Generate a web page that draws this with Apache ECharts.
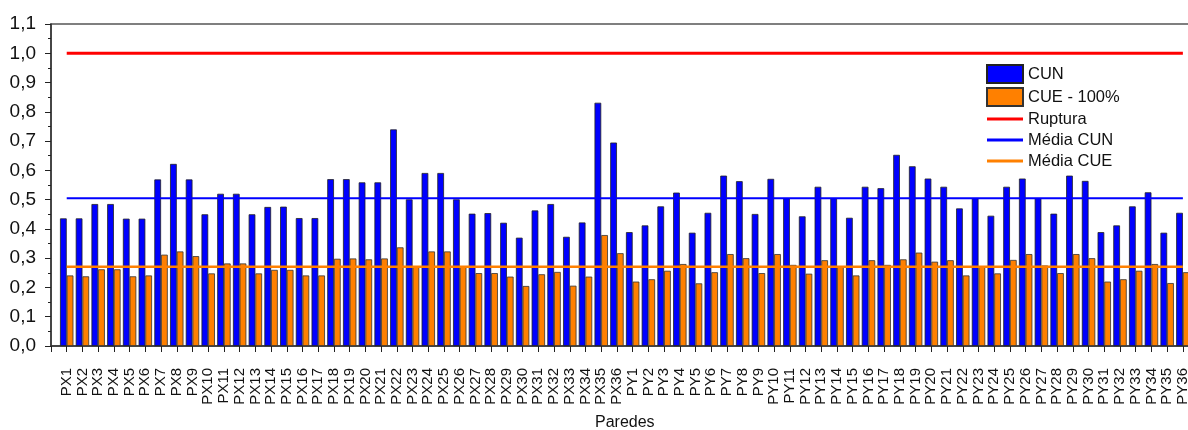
<!DOCTYPE html>
<html>
<head>
<meta charset="utf-8">
<script src="https://cdn.jsdelivr.net/npm/echarts@6/dist/echarts.min.js"></script>
<style>html,body{margin:0;padding:0;background:#fff}#c{width:1188px;height:430px}</style>
</head>
<body>
<div id="c"></div>
<script>
const categories = [
  'PX1','PX2','PX3','PX4','PX5','PX6','PX7','PX8','PX9','PX10','PX11','PX12','PX13','PX14','PX15','PX16','PX17','PX18',
  'PX19','PX20','PX21','PX22','PX23','PX24','PX25','PX26','PX27','PX28','PX29','PX30','PX31','PX32','PX33','PX34','PX35','PX36',
  'PY1','PY2','PY3','PY4','PY5','PY6','PY7','PY8','PY9','PY10','PY11','PY12','PY13','PY14','PY15','PY16','PY17','PY18',
  'PY19','PY20','PY21','PY22','PY23','PY24','PY25','PY26','PY27','PY28','PY29','PY30','PY31','PY32','PY33','PY34','PY35','PY36'
];
const cun = [
  0.436,0.436,0.485,0.485,0.435,0.435,0.569,0.622,0.569,0.450,0.520,0.520,0.450,0.475,0.476,0.437,0.437,0.570,
  0.570,0.559,0.559,0.740,0.501,0.591,0.591,0.501,0.452,0.454,0.421,0.370,0.463,0.485,0.373,0.422,0.831,0.695,
  0.389,0.412,0.477,0.524,0.387,0.455,0.582,0.563,0.451,0.571,0.505,0.443,0.544,0.505,0.438,0.544,0.539,0.653,
  0.614,0.572,0.544,0.470,0.505,0.445,0.544,0.572,0.505,0.452,0.582,0.564,0.389,0.412,0.477,0.525,0.387,0.455
];
const cue = [
  0.241,0.238,0.262,0.262,0.238,0.241,0.312,0.323,0.307,0.248,0.282,0.282,0.248,0.260,0.260,0.241,0.241,0.298,
  0.299,0.296,0.299,0.337,0.270,0.323,0.323,0.270,0.249,0.249,0.237,0.205,0.245,0.253,0.206,0.237,0.379,0.317,
  0.220,0.228,0.257,0.280,0.214,0.252,0.314,0.300,0.249,0.314,0.277,0.247,0.293,0.270,0.241,0.293,0.277,0.296,
  0.319,0.288,0.293,0.241,0.270,0.248,0.294,0.314,0.275,0.249,0.314,0.300,0.220,0.228,0.257,0.280,0.215,0.252
];
const ruptura = 1.0;
const mediaCUN = 0.505;
const mediaCUE = 0.271;
const yTicks = { min: 0, max: 1.1, interval: 0.1 };

// pad with a blank category on each side (axis frame extends one band beyond the data)
const xCats = [''].concat(categories, ['']);
const pad = arr => [null].concat(arr, [null]);
const flat = v => pad(categories.map(() => v));

const font = 'Liberation Sans, Arial, sans-serif';
const lineIcon = 'path://M0,0L0,0M36,18L36,18M0,7.5L36,7.5L36,10.5L0,10.5Z';
const chart = echarts.init(document.getElementById('c'), null, { renderer: 'canvas' });
chart.setOption({
  animation: false,
  backgroundColor: '#fff',
  grid: {
    left: 51, top: 24, bottom: 430 - 346, right: -10.6,
    show: true, borderColor: '#555', borderWidth: 1.5, backgroundColor: 'transparent',
    containLabel: false, outerBoundsMode: 'none'
  },
  legend: {
    orient: 'vertical', left: 986, top: 64, padding: 0,
    itemWidth: 36, itemHeight: 18, itemGap: 3,
    textStyle: { fontFamily: font, fontSize: 16.5, color: '#111' },
    data: [
      { name: 'CUN', icon: 'rect' },
      { name: 'CUE - 100%', icon: 'rect' },
      { name: 'Ruptura', icon: lineIcon, itemStyle: { borderWidth: 0 } },
      { name: 'Média CUN', icon: lineIcon, itemStyle: { borderWidth: 0 } },
      { name: 'Média CUE', icon: lineIcon, itemStyle: { borderWidth: 0 } }
    ]
  },
  xAxis: {
    type: 'category', data: xCats, boundaryGap: false,
    name: 'Paredes', nameLocation: 'middle', nameGap: 69,
    nameTextStyle: { fontFamily: font, fontSize: 16, color: '#111' },
    axisLine: { lineStyle: { color: '#333', width: 1.5 } },
    axisTick: { show: true, length: 6, interval: 0, lineStyle: { color: '#222' } },
    axisLabel: { rotate: 90, interval: 0, margin: 22, fontFamily: font, fontSize: 15, color: '#111' },
    splitLine: { show: false }
  },
  yAxis: {
    type: 'value', min: yTicks.min, max: yTicks.max, interval: yTicks.interval,
    axisLine: { show: true, lineStyle: { color: '#333', width: 1.5 } },
    axisTick: { show: true, length: 6, lineStyle: { color: '#222' } },
    minorTick: { show: true, splitNumber: 2, length: 3, lineStyle: { color: '#222' } },
    axisLabel: {
      margin: 15, fontFamily: font, fontSize: 19, color: '#111',
      formatter: v => v.toFixed(1).replace('.', ',')
    },
    splitLine: { show: false }
  },
  series: [
    { name: 'CUN', type: 'bar', data: pad(cun), barWidth: 6.7, barGap: '0%',
      itemStyle: { color: '#0000FF', borderColor: '#222', borderWidth: 0.8 } },
    { name: 'CUE - 100%', type: 'bar', data: pad(cue), barWidth: 6.7, barGap: '0%',
      itemStyle: { color: '#FF8000', borderColor: '#333', borderWidth: 0.8 } },
    { name: 'Média CUE', type: 'line', data: flat(mediaCUE), symbol: 'none', showSymbol: false, z: 5,
      lineStyle: { color: '#FF8000', width: 2.5 }, itemStyle: { color: '#FF8000' } },
    { name: 'Média CUN', type: 'line', data: flat(mediaCUN), symbol: 'none', showSymbol: false, z: 5,
      lineStyle: { color: '#0000FF', width: 2 }, itemStyle: { color: '#0000FF' } },
    { name: 'Ruptura', type: 'line', data: flat(ruptura), symbol: 'none', showSymbol: false, z: 6,
      lineStyle: { color: '#FF0000', width: 3 }, itemStyle: { color: '#FF0000' } }
  ]
});
</script>
</body>
</html>
